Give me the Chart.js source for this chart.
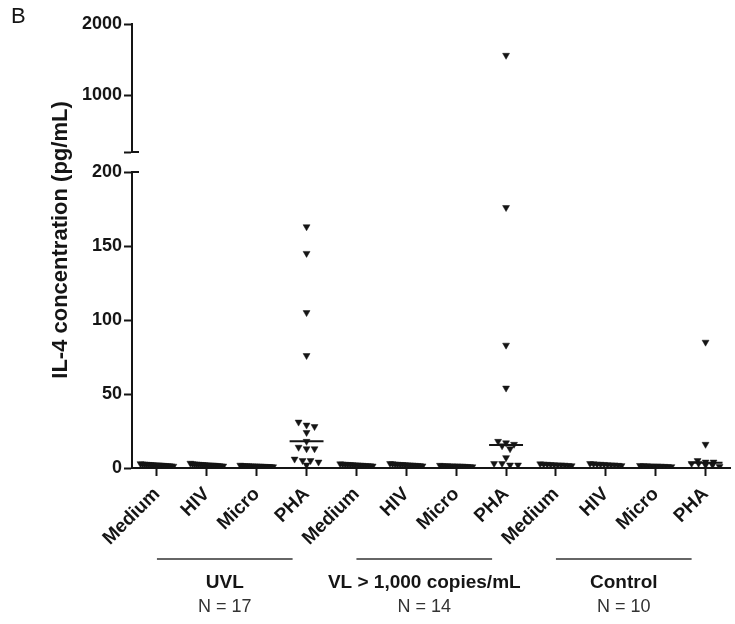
<!DOCTYPE html>
<html>
<head>
<meta charset="utf-8">
<script src="https://cdn.jsdelivr.net/npm/chart.js@4.4.1/dist/chart.umd.min.js"></script>
<style>
  html, body { margin: 0; padding: 0; background: #fff; }
  #wrap { position: relative; width: 735px; height: 624px; }
</style>
</head>
<body>
<div id="wrap"><canvas id="canvas"></canvas></div>
<script>
// categories along the x axis (3 groups x 4 stimuli)
var categories = ['Medium', 'HIV', 'Micro', 'PHA', 'Medium', 'HIV', 'Micro', 'PHA', 'Medium', 'HIV', 'Micro', 'PHA'];
var groups = ['UVL', 'VL > 1,000 copies/mL', 'Control'];
var groupN = ['N = 17', 'N = 14', 'N = 10'];

// y axis: lower segment 0-200, upper segment 200-2000
var lowTicks = [0, 50, 100, 150, 200];
var highTicks = [200, 1000, 2000];
var breakAt = 200;
var topMax = 2000;

// IL-4 (pg/mL) per subject
var uvlMedium = [2.9, 2.7, 2.6, 2.5, 2.4, 2.3, 2.2, 2.1, 2.0, 2.0, 1.9, 1.8, 1.7, 1.6, 1.5, 1.4, 1.2];
var uvlHIV    = [3.2, 2.9, 2.7, 2.6, 2.5, 2.4, 2.3, 2.2, 2.1, 2.0, 1.9, 1.9, 1.8, 1.7, 1.6, 1.4, 1.3];
var uvlMicro  = [1.9, 1.7, 1.6, 1.5, 1.5, 1.4, 1.4, 1.3, 1.3, 1.2, 1.2, 1.1, 1.1, 1.0, 1.0, 0.9, 0.8];
var uvlPHA    = [163, 145, 105, 76, 31, 29, 28, 24, 18, 14, 13, 13, 6, 5, 5, 4, 2];
var vlMedium  = [2.8, 2.6, 2.5, 2.4, 2.3, 2.2, 2.1, 2.0, 1.9, 1.8, 1.7, 1.6, 1.5, 1.3];
var vlHIV     = [3.0, 2.8, 2.6, 2.5, 2.4, 2.3, 2.2, 2.1, 2.0, 1.9, 1.8, 1.7, 1.5, 1.4];
var vlMicro   = [1.8, 1.6, 1.5, 1.5, 1.4, 1.4, 1.3, 1.3, 1.2, 1.2, 1.1, 1.0, 0.9, 0.8];
var vlPHA     = [1560, 176, 83, 54, 18, 17, 16, 15, 13, 7, 3, 3, 2, 2];
var ctlMedium = [2.8, 2.6, 2.5, 2.3, 2.2, 2.1, 2.0, 1.9, 1.7, 1.5];
var ctlHIV    = [3.0, 2.8, 2.6, 2.5, 2.4, 2.2, 2.1, 2.0, 1.8, 1.6];
var ctlMicro  = [1.7, 1.6, 1.5, 1.4, 1.3, 1.3, 1.2, 1.1, 1.0, 0.9];
var ctlPHA    = [85, 16, 5, 4, 4, 3, 3, 2, 2, 1];

var series = [uvlMedium, uvlHIV, uvlMicro, uvlPHA, vlMedium, vlHIV, vlMicro, vlPHA, ctlMedium, ctlHIV, ctlMicro, ctlPHA];

var FONT = '"Liberation Sans", Arial, Helvetica, sans-serif';
var INK = '#151515';

// spread points of similar value sideways, like a dot plot
function swarm(values, i) {
  var bins = {};
  values.forEach(function(v) {
    var b = v > breakAt ? 'h' + Math.floor(v / 50) : 'l' + Math.floor(v / 4);
    (bins[b] = bins[b] || []).push(v);
  });
  var pts = [];
  Object.keys(bins).forEach(function(b) {
    var vs = bins[b], n = vs.length, step = Math.min(0.16, 0.7 / n);
    vs.forEach(function(v, k) {
      pts.push({x: i + (k - (n - 1) / 2) * step, y: v});
    });
  });
  return pts;
}

function median(values) {
  var s = values.slice().sort(function(a, b) { return a - b; });
  var m = Math.floor(s.length / 2);
  return s.length % 2 ? s[m] : (s[m - 1] + s[m]) / 2;
}

var lowPts = [], highPts = [];
series.forEach(function(vals, i) {
  swarm(vals, i).forEach(function(p) {
    (p.y > breakAt ? highPts : lowPts).push(p);
  });
});

var pointStyle = {
  pointStyle: 'triangle', rotation: 180, pointRadius: 4,
  backgroundColor: INK, borderColor: INK, borderWidth: 0.5, pointHoverRadius: 4
};

var datasets = [
  Object.assign({label: 'low', data: lowPts, yAxisID: 'yLow'}, pointStyle),
  Object.assign({label: 'high', data: highPts, yAxisID: 'yHigh'}, pointStyle)
];
series.forEach(function(vals, i) {
  var m = median(vals);
  datasets.push({
    label: 'median ' + i, yAxisID: 'yLow', showLine: true,
    data: [{x: i - 0.34, y: m}, {x: i + 0.34, y: m}],
    borderColor: INK, borderWidth: 2, pointRadius: 0
  });
});

var decor = {
  id: 'decor',
  afterDraw: function(chart) {
    var ctx = chart.ctx, x = chart.scales.x;
    var left = chart.chartArea.left;
    ctx.save();
    ctx.fillStyle = INK;
    ctx.strokeStyle = INK;

    // panel letter
    ctx.font = '22px ' + FONT;
    ctx.textAlign = 'left';
    ctx.textBaseline = 'middle';
    ctx.fillText('B', 11, 17);

    // y title over the whole broken axis
    ctx.save();
    ctx.translate(61, 240);
    ctx.rotate(-Math.PI / 2);
    ctx.font = 'bold 22px ' + FONT;
    ctx.textAlign = 'center';
    ctx.fillText('IL-4 concentration (pg/mL)', 0, 0);
    ctx.restore();

    // caps at the break
    ctx.lineWidth = 2;
    [chart.scales.yHigh.getPixelForValue(breakAt), chart.scales.yLow.getPixelForValue(breakAt)].forEach(function(py) {
      ctx.beginPath();
      ctx.moveTo(left - 1, py);
      ctx.lineTo(left + 7, py);
      ctx.stroke();
    });

    // group underlines and labels
    groups.forEach(function(g, k) {
      var i0 = k * 4;
      var xa = x.getPixelForValue(i0), xb = x.getPixelForValue(i0 + 2.72);
      var xc = (xa + xb) / 2;
      ctx.lineWidth = 1.5;
      ctx.strokeStyle = '#333';
      ctx.beginPath();
      ctx.moveTo(xa, 559);
      ctx.lineTo(xb, 559);
      ctx.stroke();
      ctx.textAlign = 'center';
      ctx.textBaseline = 'middle';
      ctx.font = 'bold 19px ' + FONT;
      ctx.fillStyle = INK;
      ctx.fillText(g, xc, 583);
      ctx.font = '18px ' + FONT;
      ctx.fillStyle = '#333';
      ctx.fillText(groupN[k], xc, 607);
    });
    ctx.restore();
  }
};

function yAxis(weight, min, max, ticks, showLabel) {
  return {
    type: 'linear', position: 'left', stack: 'y', stackWeight: weight,
    min: min, max: max,
    afterBuildTicks: function(s) { s.ticks = ticks.map(function(v) { return {value: v}; }); },
    afterFit: function(s) { s.width = 60; },
    ticks: {
      autoSkip: false, padding: 2, color: INK,
      font: {family: FONT, size: 18, weight: 'bold'},
      callback: function(v) { return showLabel(v) ? String(v) : ''; }
    },
    grid: {drawOnChartArea: false, tickLength: 8, tickWidth: 2, tickColor: INK},
    border: {color: INK, width: 2}
  };
}

window.onload = function() {
  var ctx = document.getElementById('canvas').getContext('2d');
  window.myChart = new Chart(ctx, {
    type: 'scatter',
    data: {datasets: datasets},
    options: {
      responsive: true,
      maintainAspectRatio: false,
      animation: false,
      layout: {padding: {left: 72, top: 24, right: 2, bottom: 0}},
      plugins: {legend: {display: false}, tooltip: {enabled: false}},
      scales: {
        x: {
          type: 'linear', min: -0.5, max: 11.5,
          afterBuildTicks: function(s) { s.ticks = categories.map(function(c, i) { return {value: i}; }); },
          afterFit: function(s) { s.height = 156; },
          ticks: {
            autoSkip: false, maxRotation: 45, minRotation: 45, padding: 7, color: INK,
            font: {family: FONT, size: 19, weight: 'bold'},
            callback: function(v) { return categories[v]; }
          },
          grid: {drawOnChartArea: false, tickLength: 8, tickWidth: 2, tickColor: INK},
          border: {color: INK, width: 2}
        },
        yLow: yAxis(296, 0, breakAt, lowTicks, function() { return true; }),
        yGap: {type: 'linear', position: 'left', stack: 'y', stackWeight: 20, display: false},
        yHigh: yAxis(128, breakAt, topMax, highTicks, function(v) { return v !== breakAt; })
      }
    },
    plugins: [decor]
  });
};
</script>
</body>
</html>
